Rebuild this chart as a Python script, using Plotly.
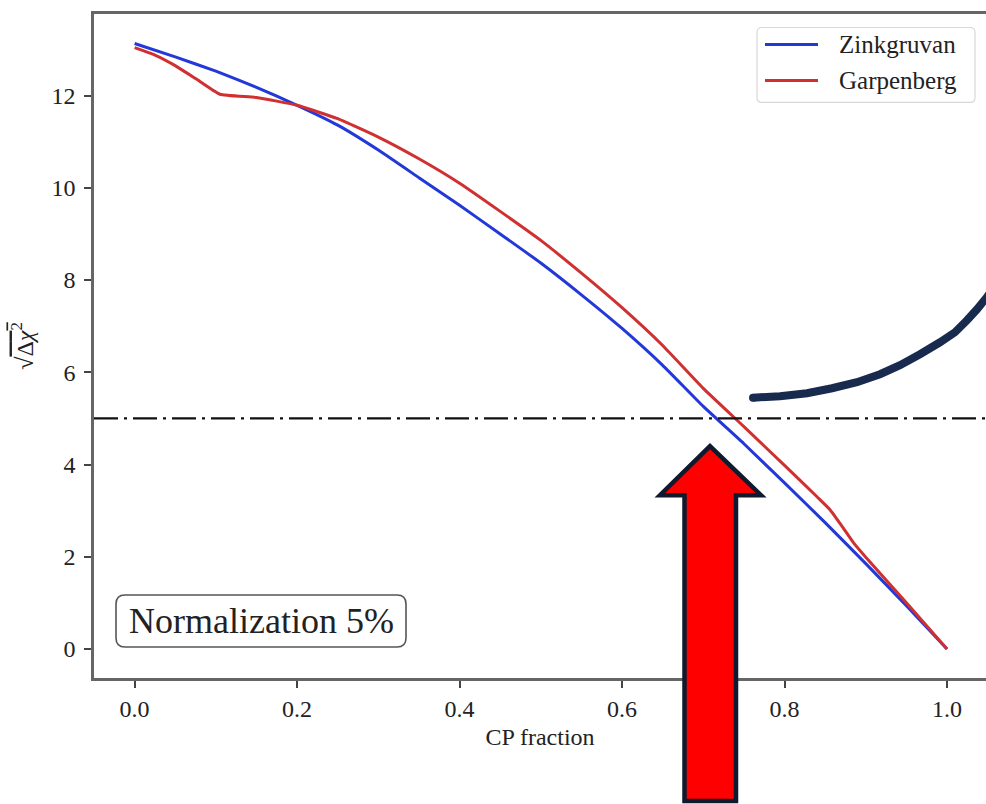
import plotly.graph_objects as go

# ---- data ----
zink_x = [0, 0.05, 0.1, 0.15, 0.2, 0.25, 0.3, 0.35, 0.4, 0.45, 0.5, 0.55, 0.6, 0.65, 0.7, 0.75, 0.8, 0.85, 0.9, 0.95, 1.0]
zink_y = [13.13, 12.84, 12.53, 12.18, 11.79, 11.36, 10.82, 10.22, 9.62, 9.0, 8.37, 7.68, 6.95, 6.15, 5.26, 4.45, 3.6, 2.74, 1.85, 0.94, 0.0]

garp_x = [0, 0.025, 0.05, 0.075, 0.105, 0.15, 0.2, 0.25, 0.3, 0.35, 0.4, 0.45, 0.5, 0.55, 0.6, 0.65, 0.7, 0.75, 0.8, 0.84, 0.856, 0.87, 0.885, 0.9, 0.95, 1.0]
garp_y = [13.04, 12.88, 12.65, 12.37, 12.03, 11.96, 11.79, 11.5, 11.1, 10.63, 10.1, 9.49, 8.86, 8.15, 7.4, 6.58, 5.65, 4.82, 3.98, 3.3, 3.02, 2.68, 2.3, 1.99, 1.0, 0.0]

series_names = ["Zinkgruvan", "Garpenberg"]
series_colors = ["#2238d8", "#d03030"]

threshold = 5
x_ticks = [0.0, 0.2, 0.4, 0.6, 0.8, 1.0]
y_ticks = [0, 2, 4, 6, 8, 10, 12]

FONT = "Liberation Serif"
W, H = 986, 804
L, R, T, B = 94, 0, 13.5, 126
PW, PH = W - L - R, H - T - B


def px(X):
    return (X - L) / PW


def py(Y):
    return (H - B - Y) / PH


def rounded_rect(x0, y0, x1, y1, r):
    return (f"M {px(x0+r)},{py(y0)} L {px(x1-r)},{py(y0)} Q {px(x1)},{py(y0)} {px(x1)},{py(y0+r)} "
            f"L {px(x1)},{py(y1-r)} Q {px(x1)},{py(y1)} {px(x1-r)},{py(y1)} "
            f"L {px(x0+r)},{py(y1)} Q {px(x0)},{py(y1)} {px(x0)},{py(y1-r)} "
            f"L {px(x0)},{py(y0+r)} Q {px(x0)},{py(y0)} {px(x0+r)},{py(y0)} Z")


fig = go.Figure()
for xs, ys, nm, col in [(zink_x, zink_y, series_names[0], series_colors[0]),
                        (garp_x, garp_y, series_names[1], series_colors[1])]:
    fig.add_trace(go.Scatter(x=xs, y=ys, mode="lines", name=nm, showlegend=False,
                             line=dict(color=col, width=3, shape="spline", smoothing=0.4)))

shapes = []
annotations = []
# threshold line
shapes.append(dict(type="line", xref="paper", x0=0, x1=1, yref="y", y0=threshold, y1=threshold,
                   line=dict(color="#111111", width=2.2, dash="24px,6px,3px,6px"), layer="above"))

# legend (matplotlib style)
shapes.append(dict(type="path", xref="paper", yref="paper", path=rounded_rect(757, 27, 975, 102, 5),
                   line=dict(color="#d8d8d8", width=1.2), fillcolor="rgba(255,255,255,0.85)", layer="above"))
for i, (nm, col) in enumerate(zip(series_names, series_colors)):
    yy = 44 + 36 * i
    shapes.append(dict(type="line", xref="paper", yref="paper", x0=px(765), x1=px(818), y0=py(yy), y1=py(yy),
                       line=dict(color=col, width=3), layer="above"))
    annotations.append(dict(xref="paper", yref="paper", x=px(837), y=py(yy), text=nm, showarrow=False,
                            xanchor="left", yanchor="middle",
                            font=dict(family=FONT, size=25, color="#222222")))

# rounded box around normalization text
shapes.append(dict(type="path", xref="paper", yref="paper", path=rounded_rect(116, 595, 406, 647, 9),
                   line=dict(color="#555555", width=1.6), fillcolor="white", layer="above"))
annotations.append(dict(xref="paper", yref="paper", x=px(261), y=py(621),
                        text="Normalization 5%", showarrow=False,
                        font=dict(family=FONT, size=36, color="#222222"),
                        xanchor="center", yanchor="middle"))

# red arrow overlay
arrow = [(710, 446), (660, 495), (684.5, 495), (684.5, 801), (736, 801), (736, 495), (761, 495)]
apath = "M " + " L ".join(f"{px(a)},{py(b)}" for a, b in arrow) + " Z"
shapes.append(dict(type="path", xref="paper", yref="paper", path=apath,
                   line=dict(color="#0f1a2e", width=4.5), fillcolor="#ff0000", layer="above"))

# dark curve overlay
curve = [(753, 397.5), (780, 396), (807, 393), (832, 388), (857, 382), (880, 374), (900, 365),
         (920, 354), (940, 342), (955, 332), (967, 320), (977, 309), (986, 298), (995, 286)]
cpath = "M " + " L ".join(f"{px(a)},{py(b)}" for a, b in curve)
shapes.append(dict(type="path", xref="paper", yref="paper", path=cpath,
                   line=dict(color="#182a4e", width=8), layer="above"))
shapes.append(dict(type="circle", xref="paper", yref="paper",
                   x0=px(749), x1=px(757), y0=py(393.5), y1=py(401.5),
                   line=dict(width=0), fillcolor="#182a4e", layer="above"))

fig.update_layout(
    width=W, height=H,
    margin=dict(l=L, r=R, t=T, b=B, pad=0),
    paper_bgcolor="white", plot_bgcolor="white",
    font=dict(family=FONT, size=24, color="#222222"),
    showlegend=False,
    shapes=shapes,
    annotations=annotations,
)

fig.update_xaxes(range=[-0.05, 1.048], tickvals=x_ticks, ticktext=[f"{v:.1f}" for v in x_ticks],
                 showgrid=False, zeroline=False, showline=True, linecolor="#666666", linewidth=2.5,
                 mirror=True, ticks="outside", ticklen=7, tickwidth=2, tickcolor="#444444",
                 title=dict(text="CP fraction", standoff=8, font=dict(family=FONT, size=24)))
fig.update_yaxes(range=[-0.63, 13.77], tickvals=y_ticks,
                 showgrid=False, zeroline=False, showline=True, linecolor="#666666", linewidth=2.5,
                 mirror=False, ticks="outside", ticklen=7, tickwidth=2, tickcolor="#444444",
                 ticklabelstandoff=4,
                 title=dict(text="√<span style='text-decoration:overline'>Δ<i>χ</i><sup>2</sup></span>",
                            standoff=12, font=dict(family=FONT, size=24)))

fig.write_html("out.html")
